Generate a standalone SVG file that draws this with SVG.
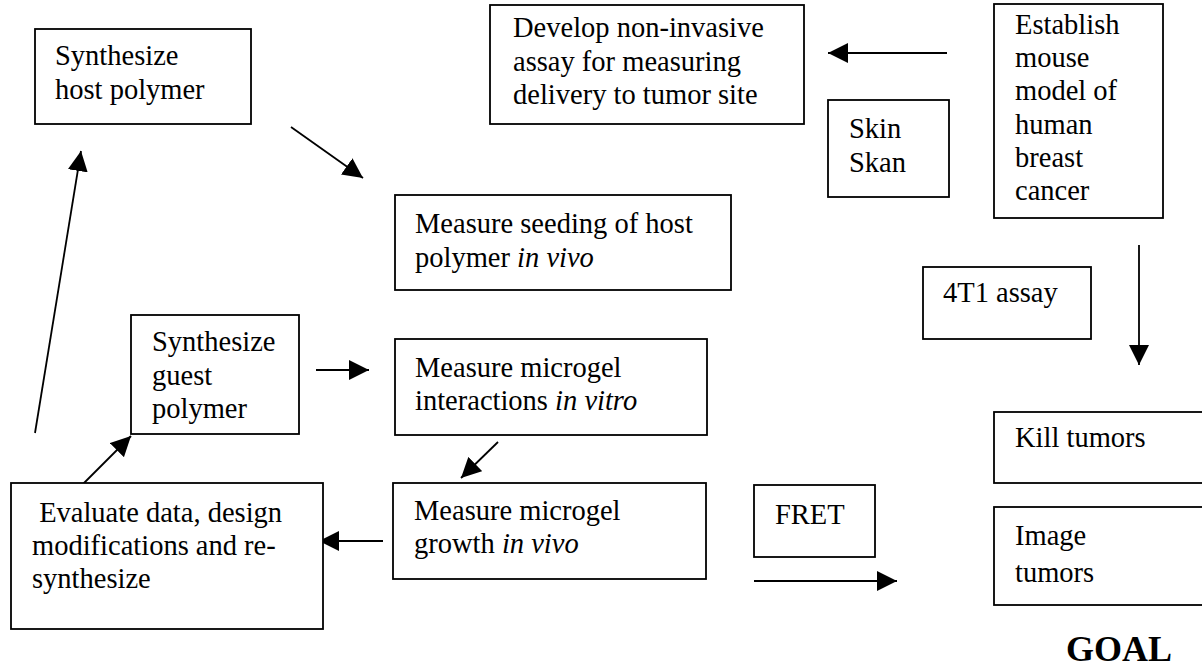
<svg xmlns="http://www.w3.org/2000/svg" width="1202" height="667" viewBox="0 0 1202 667">
<defs>
<marker id="ah" markerUnits="userSpaceOnUse" markerWidth="22" markerHeight="20" refX="20" refY="10" orient="auto">
<path d="M0,0 L20,10 L0,20 z" fill="#000"/>
</marker>
<style>
.box{fill:#fff;stroke:#000;stroke-width:1.8}
.t{font-family:'Liberation Serif','Times New Roman',Times,'DejaVu Serif',serif;font-size:28.5px;fill:#000}
.i{font-style:italic}
.c{stroke:#000;stroke-width:1.8;fill:none;marker-end:url(#ah)}
.goal{font-family:'Liberation Serif','Times New Roman',Times,'DejaVu Serif',serif;font-size:36px;font-weight:bold;fill:#000}
</style>
</defs>
<rect width="1202" height="667" fill="#fff"/>
<g id="connectors">
<line class="c" x1="291" y1="127" x2="363" y2="178"/>
<line class="c" x1="35" y1="433" x2="81" y2="151"/>
<line class="c" x1="316" y1="370" x2="369" y2="370"/>
<line class="c" x1="83" y1="484" x2="131" y2="436"/>
<line class="c" x1="498" y1="442" x2="461" y2="478"/>
<line class="c" x1="383" y1="541" x2="319" y2="541"/>
<line class="c" x1="754" y1="581" x2="897" y2="581"/>
<line class="c" x1="947" y1="53" x2="828" y2="53"/>
<line class="c" x1="1139" y1="245" x2="1139" y2="365"/>
</g>
<g id="synth-host">
<rect class="box" x="35" y="29" width="216" height="95"/>
<text class="t" x="55" y="65">Synthesize</text>
<text class="t" x="55" y="99">host polymer</text>
</g>
<g id="develop-assay">
<rect class="box" x="490" y="5" width="314" height="119"/>
<text class="t" x="513" y="37">Develop non-invasive</text>
<text class="t" x="513" y="71">assay for measuring</text>
<text class="t" x="513" y="104">delivery to tumor site</text>
</g>
<g id="skin-skan">
<rect class="box" x="828" y="100" width="121" height="97"/>
<text class="t" x="849" y="138">Skin</text>
<text class="t" x="849" y="172">Skan</text>
</g>
<g id="establish-model">
<rect class="box" x="994" y="4" width="169" height="214"/>
<text class="t" x="1015" y="34">Establish</text>
<text class="t" x="1015" y="67">mouse</text>
<text class="t" x="1015" y="100">model of</text>
<text class="t" x="1015" y="134">human</text>
<text class="t" x="1015" y="167">breast</text>
<text class="t" x="1015" y="200">cancer</text>
</g>
<g id="measure-seeding">
<rect class="box" x="395" y="195" width="336" height="95"/>
<text class="t" x="415" y="233">Measure seeding of host</text>
<text class="t" x="415" y="267">polymer <tspan class="i">in vivo</tspan></text>
</g>
<g id="synth-guest">
<rect class="box" x="131" y="315" width="168" height="119"/>
<text class="t" x="152" y="351">Synthesize</text>
<text class="t" x="152" y="385">guest</text>
<text class="t" x="152" y="418">polymer</text>
</g>
<g id="measure-interactions">
<rect class="box" x="395" y="339" width="312" height="96"/>
<text class="t" x="415" y="377">Measure microgel</text>
<text class="t" x="415" y="410">interactions <tspan class="i">in vitro</tspan></text>
</g>
<g id="four-t1">
<rect class="box" x="923" y="267" width="168" height="72"/>
<text class="t" x="943" y="302">4T1 assay</text>
</g>
<g id="kill-tumors">
<rect class="box" x="994" y="412" width="220" height="71"/>
<text class="t" x="1015" y="447">Kill tumors</text>
</g>
<g id="evaluate">
<rect class="box" x="11" y="483" width="312" height="146"/>
<text class="t" x="32" y="522" xml:space="preserve"> Evaluate data, design</text>
<text class="t" x="32" y="555">modifications and re-</text>
<text class="t" x="32" y="588">synthesize</text>
</g>
<g id="measure-growth">
<rect class="box" x="393" y="483" width="313" height="96"/>
<text class="t" x="414" y="520">Measure microgel</text>
<text class="t" x="414" y="553">growth <tspan class="i">in vivo</tspan></text>
</g>
<g id="fret">
<rect class="box" x="754" y="485" width="121" height="72"/>
<text class="t" x="775" y="524">FRET</text>
</g>
<g id="image-tumors">
<rect class="box" x="994" y="507" width="220" height="98"/>
<text class="t" x="1015" y="545">Image</text>
<text class="t" x="1015" y="582">tumors</text>
</g>
<g id="goal">
<text class="goal" x="1066" y="661">GOAL</text>
</g>
</svg>
